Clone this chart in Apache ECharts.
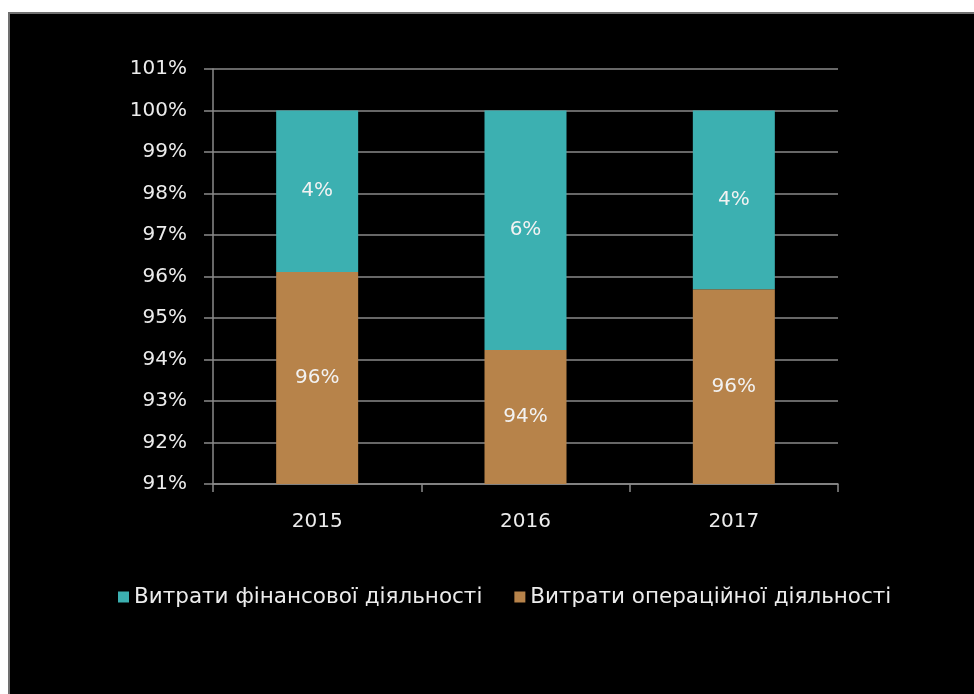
<!DOCTYPE html>
<html>
<head>
<meta charset="utf-8">
<script src="https://cdn.jsdelivr.net/npm/echarts@6/dist/echarts.min.js"></script>
<style>
  html, body { margin: 0; padding: 0; background: #ffffff; width: 974px; height: 694px; overflow: hidden; }
  #panel { position: absolute; left: 8px; top: 12px; width: 966px; height: 682px; background: #000; border-left: 2px solid #707070; border-top: 2px solid #707070; box-sizing: border-box; }
  #chart { position: absolute; left: 0; top: 0; width: 974px; height: 694px; }
</style>
</head>
<body>
<div id="panel"></div>
<div id="chart"></div>
<script>
const categories = ['2015', '2016', '2017'];
const seriesNames = ['Витрати фінансової діяльності', 'Витрати операційної діяльності'];
const operational = [96.11, 94.23, 95.69];
const financial = [3.89, 5.77, 4.31];
const yTicks = { min: 91, max: 101, interval: 1 };

const FONT = 'DejaVu Sans';
const chart = echarts.init(document.getElementById('chart'), null, { renderer: 'canvas' });
const labelCfg = {
  show: true,
  position: 'inside',
  color: '#f2f2f2',
  fontFamily: FONT,
  fontSize: 20,
  formatter: p => Math.round(p.value) + '%'
};
chart.setOption({
  backgroundColor: 'transparent',
  animation: false,
  textStyle: { fontFamily: FONT },
  grid: { left: 213, right: 136, top: 69, bottom: 210, containLabel: false },
  legend: {
    data: seriesNames,
    top: 581,
    left: 113,
    itemWidth: 11,
    itemHeight: 11,
    itemGap: 32,
    icon: 'rect',
    textStyle: { color: '#ececec', fontFamily: FONT, fontSize: 21.5 }
  },
  xAxis: {
    type: 'category',
    data: categories,
    axisLine: { show: true, lineStyle: { color: '#8a8a8a', width: 1.5 } },
    axisTick: { show: true, length: 8, alignWithLabel: false, lineStyle: { color: '#8a8a8a', width: 1.5 } },
    axisLabel: { color: '#ececec', fontFamily: FONT, fontSize: 20, margin: 28 },
    splitLine: { show: false }
  },
  yAxis: {
    type: 'value',
    min: yTicks.min,
    max: yTicks.max,
    interval: yTicks.interval,
    axisLine: { show: true, lineStyle: { color: '#8a8a8a', width: 1.5 } },
    axisTick: { show: true, length: 9, lineStyle: { color: '#8a8a8a', width: 1.5 } },
    axisLabel: { color: '#ececec', fontFamily: FONT, fontSize: 20, margin: 26, formatter: '{value}%' },
    splitLine: { show: true, lineStyle: { color: '#8a8a8a', width: 1.5 } }
  },
  series: [
    {
      name: seriesNames[1],
      type: 'bar',
      stack: 'total',
      barWidth: 82,
      data: operational,
      itemStyle: { color: '#b7834a' },
      label: labelCfg
    },
    {
      name: seriesNames[0],
      type: 'bar',
      stack: 'total',
      barWidth: 82,
      data: financial,
      itemStyle: { color: '#3cb0b1' },
      label: labelCfg
    }
  ]
});
</script>
</body>
</html>
